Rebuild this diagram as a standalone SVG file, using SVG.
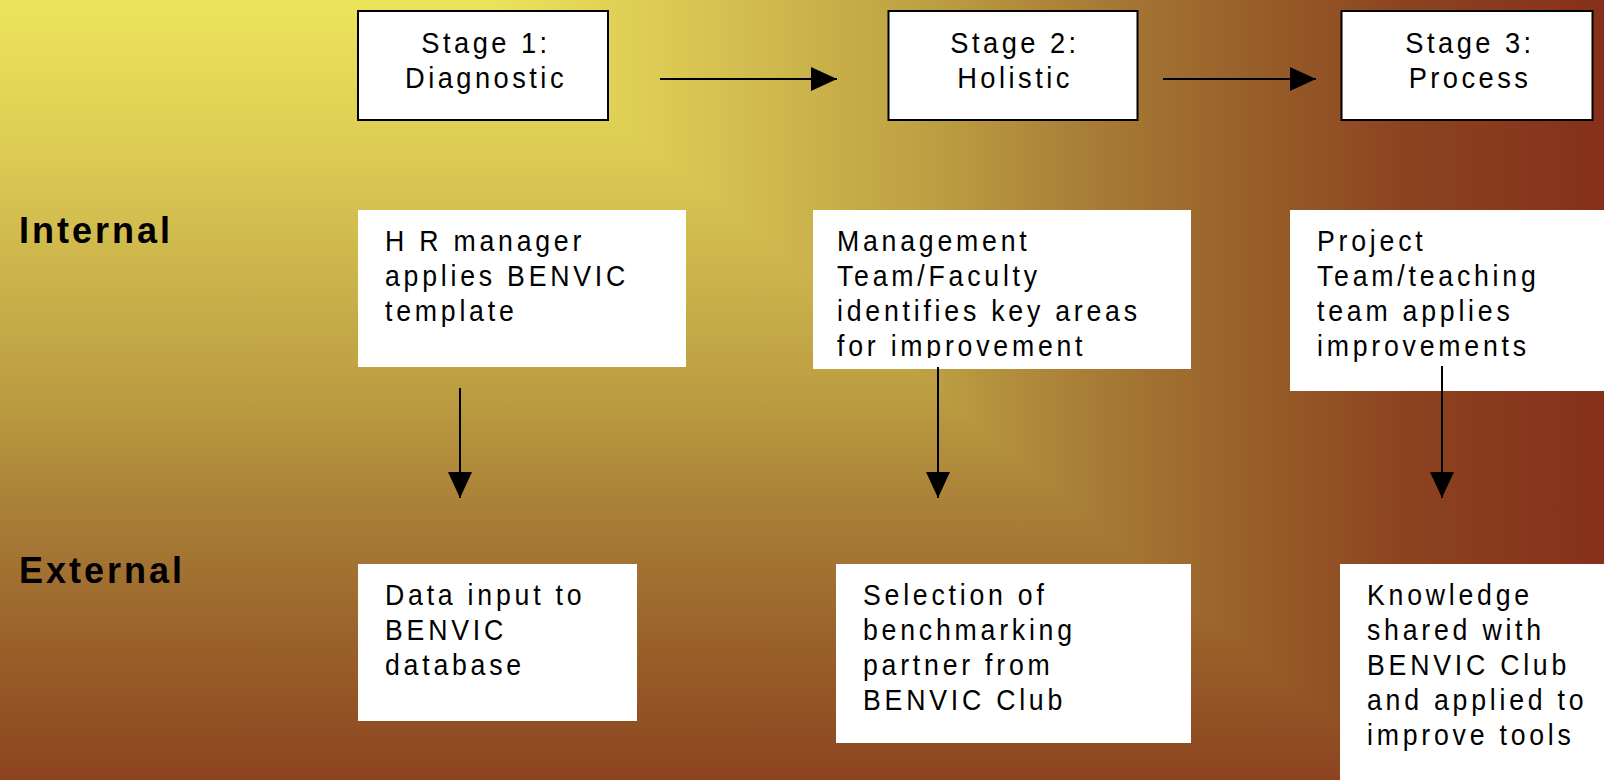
<svg xmlns="http://www.w3.org/2000/svg" width="1604" height="780" viewBox="0 0 1604 780">
  <defs>
    <linearGradient id="bgV" gradientUnits="userSpaceOnUse" x1="0" y1="0" x2="0" y2="780">
      <stop offset="0" stop-color="#ECE45B"/>
      <stop offset="0.1" stop-color="#E4D857"/>
      <stop offset="0.24" stop-color="#D7C452"/>
      <stop offset="0.5" stop-color="#BC9E42"/>
      <stop offset="0.67" stop-color="#A87C36"/>
      <stop offset="0.83" stop-color="#99602A"/>
      <stop offset="1" stop-color="#8C4420"/>
    </linearGradient>
    <linearGradient id="bgH" gradientUnits="userSpaceOnUse" x1="475" y1="0" x2="1604" y2="0">
      <stop offset="0" stop-color="#ECE45B"/>
      <stop offset="0.082" stop-color="#E4D857"/>
      <stop offset="0.2" stop-color="#D7C452"/>
      <stop offset="0.41" stop-color="#BC9E42"/>
      <stop offset="0.546" stop-color="#A87C36"/>
      <stop offset="0.683" stop-color="#99602A"/>
      <stop offset="0.82" stop-color="#8C4420"/>
      <stop offset="1" stop-color="#86301A"/>
    </linearGradient>
    <marker id="arrow" viewBox="0 0 26 24" markerUnits="userSpaceOnUse" markerWidth="26" markerHeight="24" refX="26" refY="12" orient="auto">
      <path d="M0,0 L26,12 L0,24 Z" fill="#000"/>
    </marker>
    <clipPath id="clipMgmt">
      <rect x="813" y="210" width="378" height="148"/>
    </clipPath>
  </defs>
  <style>
    .stage { fill: #fff; stroke: #000; stroke-width: 2; }
    .box { fill: #fff; stroke: none; }
    .st { font-family: "Liberation Sans", Arial, sans-serif; font-size: 29px; letter-spacing: 3.7px; fill: #000; text-anchor: middle; }
    .bt { font-family: "Liberation Sans", Arial, sans-serif; font-size: 29px; letter-spacing: 4.1px; fill: #000; }
    .lbl { font-family: "Liberation Sans", Arial, sans-serif; font-size: 36px; font-weight: bold; letter-spacing: 3px; fill: #000; }
    .conn line { stroke: #000; stroke-width: 2; marker-end: url(#arrow); }
  </style>

  <g id="background">
    <rect x="0" y="0" width="1604" height="780" fill="url(#bgV)"/>
    <polygon points="475,0 1604,0 1604,780 1400,780" fill="url(#bgH)"/>
  </g>

  <g id="label-internal">
    <text class="lbl" x="19" y="243">Internal</text>
  </g>
  <g id="label-external">
    <text class="lbl" x="19" y="583">External</text>
  </g>

  <g id="stage1">
    <rect class="stage" x="358" y="11" width="250" height="109"/>
    <g transform="translate(486,0) scale(0.94,1)">
      <text class="st" x="0" y="53">Stage 1:</text>
      <text class="st" x="0" y="88">Diagnostic</text>
    </g>
  </g>
  <g id="stage2">
    <rect class="stage" x="888.5" y="11" width="249" height="109"/>
    <g transform="translate(1015,0) scale(0.94,1)">
      <text class="st" x="0" y="53">Stage 2:</text>
      <text class="st" x="0" y="88">Holistic</text>
    </g>
  </g>
  <g id="stage3">
    <rect class="stage" x="1341.5" y="11" width="251" height="109"/>
    <g transform="translate(1470,0) scale(0.94,1)">
      <text class="st" x="0" y="53">Stage 3:</text>
      <text class="st" x="0" y="88">Process</text>
    </g>
  </g>

  <g id="hr-manager">
    <rect class="box" x="358" y="210" width="328" height="157"/>
    <g transform="translate(385,0) scale(0.92,1)">
      <text class="bt" x="0" y="251">H R manager</text>
      <text class="bt" x="0" y="286">applies BENVIC</text>
      <text class="bt" x="0" y="321">template</text>
    </g>
  </g>
  <g id="management-team">
    <rect class="box" x="813" y="210" width="378" height="159"/>
    <g clip-path="url(#clipMgmt)">
      <g transform="translate(837,0) scale(0.92,1)">
        <text class="bt" x="0" y="251">Management</text>
        <text class="bt" x="0" y="286">Team/Faculty</text>
        <text class="bt" x="0" y="321">identifies key areas</text>
        <text class="bt" x="0" y="356">for improvement</text>
      </g>
    </g>
  </g>
  <g id="project-team">
    <rect class="box" x="1290" y="210" width="314" height="181"/>
    <g transform="translate(1317,0) scale(0.92,1)">
      <text class="bt" x="0" y="251">Project</text>
      <text class="bt" x="0" y="286">Team/teaching</text>
      <text class="bt" x="0" y="321">team applies</text>
      <text class="bt" x="0" y="356">improvements</text>
    </g>
  </g>

  <g id="data-input">
    <rect class="box" x="358" y="564" width="279" height="157"/>
    <g transform="translate(385,0) scale(0.92,1)">
      <text class="bt" x="0" y="605">Data input to</text>
      <text class="bt" x="0" y="640">BENVIC</text>
      <text class="bt" x="0" y="675">database</text>
    </g>
  </g>
  <g id="selection">
    <rect class="box" x="836" y="564" width="355" height="179"/>
    <g transform="translate(863,0) scale(0.92,1)">
      <text class="bt" x="0" y="605">Selection of</text>
      <text class="bt" x="0" y="640">benchmarking</text>
      <text class="bt" x="0" y="675">partner from</text>
      <text class="bt" x="0" y="710">BENVIC Club</text>
    </g>
  </g>
  <g id="knowledge">
    <rect class="box" x="1340" y="564" width="264" height="216"/>
    <g transform="translate(1367,0) scale(0.92,1)">
      <text class="bt" x="0" y="605">Knowledge</text>
      <text class="bt" x="0" y="640">shared with</text>
      <text class="bt" x="0" y="675">BENVIC Club</text>
      <text class="bt" x="0" y="710">and applied to</text>
      <text class="bt" x="0" y="745">improve tools</text>
    </g>
  </g>

  <g id="connectors" class="conn">
    <line x1="660" y1="79" x2="837" y2="79"/>
    <line x1="1163" y1="79" x2="1316" y2="79"/>
    <line x1="460" y1="388" x2="460" y2="498"/>
    <line x1="938" y1="367" x2="938" y2="498"/>
    <line x1="1442" y1="366" x2="1442" y2="498"/>
  </g>
</svg>
